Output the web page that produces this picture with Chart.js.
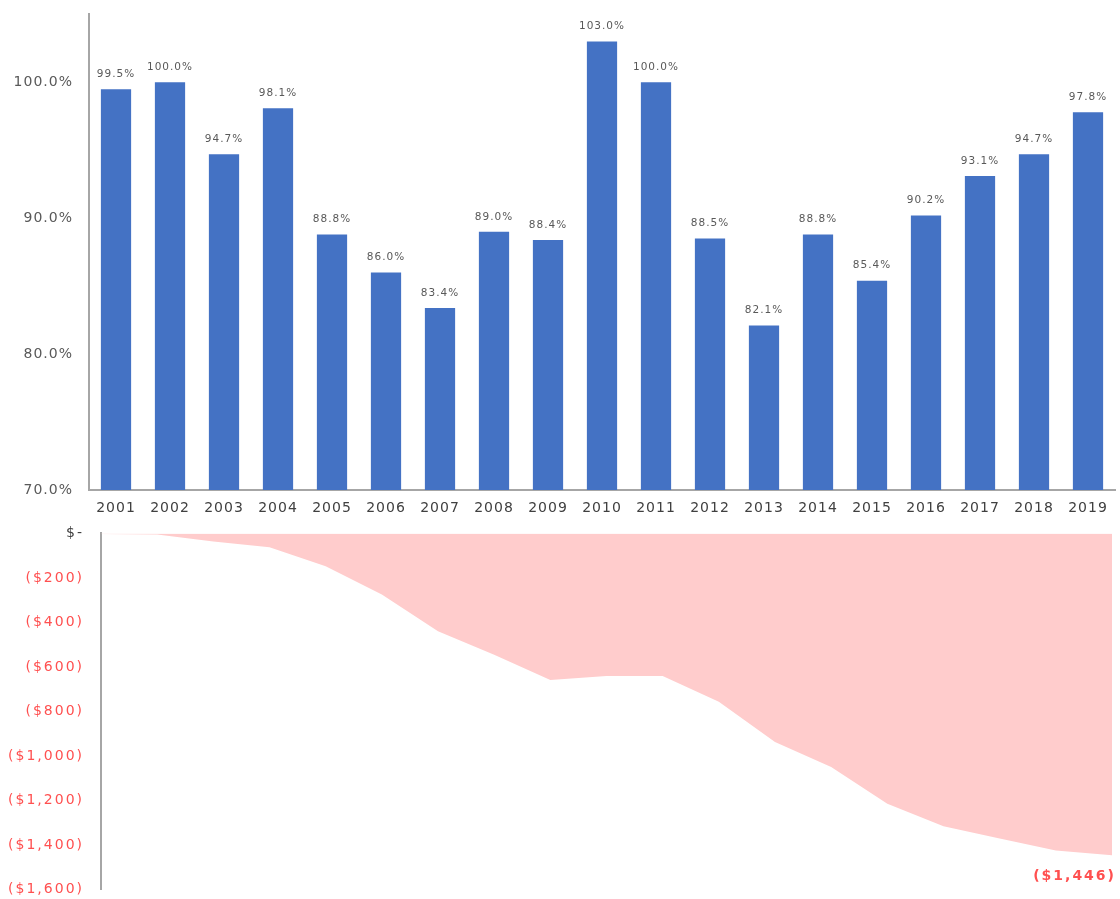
<!DOCTYPE html>
<html>
<head>
<meta charset="utf-8">
<script src="https://cdn.jsdelivr.net/npm/chart.js@4/dist/chart.umd.min.js"></script>
<style>
  html, body { margin: 0; padding: 0; background: #ffffff; overflow: hidden; }
  #wrap { position: relative; width: 1120px; height: 899px; overflow: hidden; }
  #top { position: absolute; left: 0; top: -10px; }
  #bot { position: absolute; left: 0; top: 508px; }
</style>
</head>
<body>
<div id="wrap">
  <div id="top" style="width:1120px;height:530px;"><canvas id="c1"></canvas></div>
  <div id="bot" style="width:1120px;height:407px;"><canvas id="c2"></canvas></div>
</div>
<script>
// ---- data ----
const years = ['2001','2002','2003','2004','2005','2006','2007','2008','2009','2010',
               '2011','2012','2013','2014','2015','2016','2017','2018','2019'];
const ratioPct = [99.5, 100.0, 94.7, 98.1, 88.8, 86.0, 83.4, 89.0, 88.4, 103.0,
                  100.0, 88.5, 82.1, 88.8, 85.4, 90.2, 93.1, 94.7, 97.8];
const cumulative = [-3, -5, -36, -62, -147, -275, -440, -545, -658, -640,
                    -640, -756, -937, -1049, -1214, -1316, -1371, -1424, -1446];
const pctTicks = [70, 80, 90, 100];
const dollarTicks = [0, -200, -400, -600, -800, -1000, -1200, -1400, -1600];

const FONT = 'DejaVu Sans';
const axisGray = '#A6A6A6';

function fmtDollar(v) {
  if (v === 0) return '$-';
  const s = Math.abs(v).toLocaleString('en-US');
  return v < 0 ? '($' + s + ')' : '$' + s;
}

function spacing(px) {
  return {
    id: 'spacing' + px,
    beforeDraw(chart) { if ('letterSpacing' in chart.ctx) chart.ctx.letterSpacing = px + 'px'; },
    afterDraw(chart) { if ('letterSpacing' in chart.ctx) chart.ctx.letterSpacing = '0px'; }
  };
}

const barLabels = {
  id: 'barLabels',
  afterDatasetsDraw(chart) {
    const ctx = chart.ctx;
    const meta = chart.getDatasetMeta(0);
    ctx.save();
    ctx.font = '10.5px "' + FONT + '"';
    ctx.fillStyle = '#595959';
    ctx.textAlign = 'center';
    ctx.textBaseline = 'middle';
    meta.data.forEach((el, i) => {
      ctx.fillText(ratioPct[i].toFixed(1) + '%', el.x, el.y - 15);
    });
    ctx.restore();
  }
};

new Chart(document.getElementById('c1'), {
  type: 'bar',
  data: {
    labels: years,
    datasets: [{
      data: ratioPct,
      backgroundColor: '#4472C4',
      borderWidth: 0,
      categoryPercentage: 1.0,
      barPercentage: 0.56
    }]
  },
  options: {
    responsive: true,
    maintainAspectRatio: false,
    animation: false,
    layout: { padding: { left: 0, right: 5, top: 2, bottom: 0 } },
    plugins: { legend: { display: false }, tooltip: { enabled: false } },
    scales: {
      x: {
        grid: { display: false, drawTicks: false },
        border: { display: true, color: axisGray, width: 2 },
        ticks: { color: '#404040', font: { family: FONT, size: 14 }, padding: 10, maxRotation: 0, autoSkip: false },
        afterFit(axis) { axis.height = 30; }
      },
      y: {
        min: 70, max: 105,
        grid: { display: false, drawTicks: false },
        border: { display: true, color: axisGray, width: 2 },
        afterBuildTicks(axis) { axis.ticks = pctTicks.map(v => ({ value: v })); },
        ticks: {
          color: '#595959', font: { family: FONT, size: 14 }, padding: 16,
          callback: v => v.toFixed(1) + '%'
        },
        afterFit(axis) { axis.width = 89; }
      }
    }
  },
  plugins: [spacing(1), barLabels]
});

const endLabel = {
  id: 'endLabel',
  afterDatasetsDraw(chart) {
    const ctx = chart.ctx;
    const meta = chart.getDatasetMeta(0);
    const last = meta.data[meta.data.length - 1];
    ctx.save();
    ctx.font = 'bold 14px "' + FONT + '"';
    ctx.fillStyle = '#FF5050';
    ctx.textAlign = 'right';
    ctx.textBaseline = 'middle';
    ctx.fillText(fmtDollar(cumulative[cumulative.length - 1]), last.x + 4, last.y + 21);
    ctx.restore();
  }
};

new Chart(document.getElementById('c2'), {
  type: 'line',
  data: {
    labels: years,
    datasets: [{
      data: cumulative,
      fill: 'origin',
      backgroundColor: '#FFCCCC',
      borderWidth: 0,
      borderColor: 'rgba(0,0,0,0)',
      pointRadius: 0,
      tension: 0
    }]
  },
  options: {
    responsive: true,
    maintainAspectRatio: false,
    animation: false,
    layout: { padding: { left: 0, right: 8, top: 0, bottom: 0 } },
    plugins: { legend: { display: false }, tooltip: { enabled: false } },
    scales: {
      x: {
        display: false,
        offset: false
      },
      y: {
        min: -1600, max: 0,
        grid: { display: false, drawTicks: false },
        border: { display: true, color: axisGray, width: 2 },
        afterBuildTicks(axis) { axis.ticks = dollarTicks.map(v => ({ value: v })); },
        ticks: {
          font: { family: FONT, size: 14 }, padding: 17,
          color: ctx => (ctx.tick && ctx.tick.value === 0) ? '#404040' : '#FF5050',
          callback: v => fmtDollar(v)
        },
        afterFit(axis) { axis.width = 101; }
      }
    }
  },
  plugins: [spacing(2), endLabel]
});
</script>
</body>
</html>
